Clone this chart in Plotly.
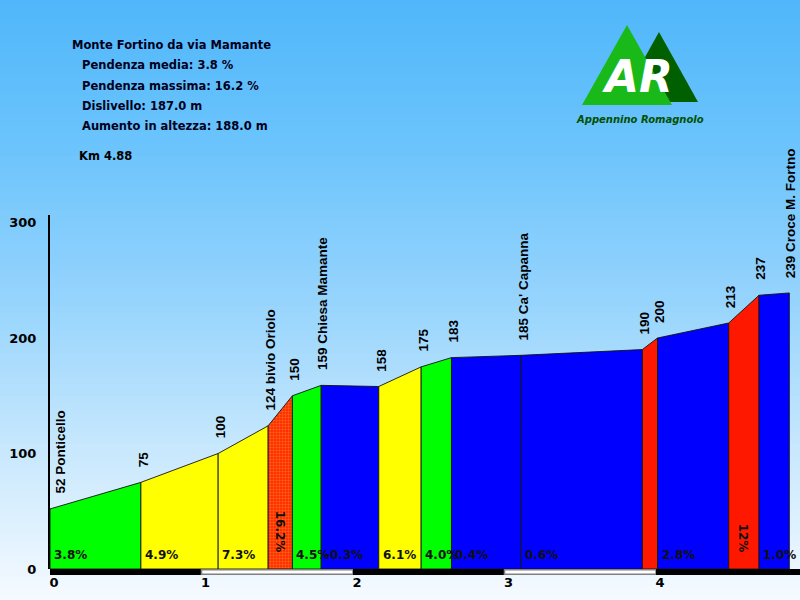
import plotly.graph_objects as go

# ---------------- data ----------------
km = [0, 0.60, 1.11, 1.44, 1.60, 1.79, 2.17, 2.45, 2.65, 3.11, 3.91, 4.01, 4.48, 4.68, 4.88]
alt = [52, 75, 100, 124, 150, 159, 158, 175, 183, 185, 190, 200, 213, 237, 239]
places = ["Ponticello", "", "", "bivio Oriolo", "", "Chiesa Mamante", "", "", "",
          "Ca' Capanna", "", "", "", "", "Croce M. Fortno"]
grades = [3.8, 4.9, 7.3, 16.2, 4.5, -0.3, 6.1, 4.0, 0.4, 0.6, 10.0, 2.8, 12.0, 1.0]
grade_labels = ["3.8%", "4.9%", "7.3%", "16.2%", "4.5%", "-0.3%", "6.1%", "4.0%",
                "0.4%", "0.6%", "", "2.8%", "12%", "1.0%"]
km_ticks = [0, 1, 2, 3, 4]
alt_ticks = [0, 100, 200, 300]
title_lines = ["Monte Fortino da via Mamante", "Pendenza media: 3.8 %",
               "Pendenza massima: 16.2 %", "Dislivello: 187.0 m",
               "Aumento in altezza: 188.0 m"]
length_label = "Km 4.88"

# ---------------- layout geometry ----------------
W, H = 800, 600
ML, MR, MT, MB = 50, 0, 215, 31
PX_PER_KM = 151.5
PX_PER_M = 1.155
XMAX = (W - ML - MR) / PX_PER_KM
YMAX = (H - MB - MT) / PX_PER_M


def X(px):
    return (px - ML) / (W - ML - MR)


def Y(py):
    return (H - MB - py) / (H - MT - MB)


def seg_color(g):
    if g < 3:
        return "#0000ff"
    if g < 4.7:
        return "#00ff00"
    if g < 9:
        return "#ffff00"
    if g < 15:
        return "#ff1800"
    return "hatch"


fig = go.Figure()

# profile segments
for i in range(len(grades)):
    x0, x1 = km[i], km[i + 1]
    h0, h1 = alt[i], alt[i + 1]
    c = seg_color(grades[i])
    kw = {}
    if c == "hatch":
        kw["fillcolor"] = "#ff3000"
        kw["fillpattern"] = dict(shape=".", bgcolor="#ff2000", fgcolor="#ffa020",
                                 size=3, solidity=0.5)
    else:
        kw["fillcolor"] = c
    fig.add_trace(go.Scatter(
        x=[x0, x0, x1, x1, x0], y=[0, h0, h1, 0, 0],
        mode="lines", fill="toself",
        line=dict(color="rgba(20,20,20,0.9)", width=1),
        hoverinfo="skip", showlegend=False, **kw))

# elevation / place labels (rotated)
for i, (k, a, p) in enumerate(zip(km, alt, places)):
    txt = f"{a} {p}" if p else f"{a}"
    fig.add_annotation(x=k, y=a, text=txt, textangle=-90, showarrow=False,
                       xanchor="center", yanchor="bottom",
                       xshift=10 if i == 0 else 2, yshift=13,
                       font=dict(family="Liberation Sans", size=13.5, color="#000000",
                                 weight="bold"))

# gradient labels
for i, lab in enumerate(grade_labels):
    if not lab:
        continue
    x0, x1 = km[i], km[i + 1]
    if grades[i] >= 12:
        fig.add_annotation(x=(x0 + x1) / 2, y=0, text=lab, textangle=90, showarrow=False,
                           xanchor="center", yanchor="bottom", yshift=14,
                           font=dict(family="DejaVu Sans", size=12, color="#101010",
                                     weight="bold"))
    else:
        fig.add_annotation(x=x0, y=0, text=lab, showarrow=False,
                           xanchor="left", yanchor="bottom", xshift=2, yshift=5,
                           font=dict(family="DejaVu Sans", size=12, color="#101010",
                                     weight="bold"))

shapes = []
# sky gradient background
stops = [(0, (80, 183, 250)), (150, (108, 196, 252)), (300, (150, 212, 253)),
         (450, (200, 232, 253)), (570, (236, 246, 255)), (600, (246, 250, 255))]


def col_at(py):
    for (a, ca), (b, cb) in zip(stops[:-1], stops[1:]):
        if a <= py <= b:
            t = (py - a) / (b - a)
            return tuple(int(round(ca[j] + t * (cb[j] - ca[j]))) for j in range(3))
    return stops[-1][1]


step = 6
for py in range(0, H, step):
    c = col_at(py + step / 2)
    shapes.append(dict(type="rect", xref="paper", yref="paper", layer="below",
                       x0=X(0), x1=X(W), y0=Y(py + step), y1=Y(py),
                       fillcolor=f"rgb{c}", line=dict(width=0)))

# km bar along x axis (alternating black / white km bands)
BAR_TOP, BAR_BOT = 569, 575
for k in range(len(km_ticks)):
    a = km_ticks[k] / XMAX
    b = (km_ticks[k + 1] / XMAX) if k + 1 < len(km_ticks) else 1.0
    if k % 2 == 0:
        shapes.append(dict(type="rect", xref="paper", yref="paper", layer="above",
                           x0=a, x1=b, y0=Y(BAR_BOT), y1=Y(BAR_TOP), fillcolor="#000000",
                           line=dict(width=0)))
    else:
        shapes.append(dict(type="rect", xref="paper", yref="paper", layer="above",
                           x0=a, x1=b, y0=Y(BAR_BOT - 0.7), y1=Y(BAR_TOP + 0.7),
                           fillcolor="#ffffff", line=dict(color="#808080", width=1.5)))

# logo
def path(pts):
    return "M " + " L ".join(f"{X(px)},{Y(py)}" for px, py in pts) + " Z"


shapes.append(dict(type="path", xref="paper", yref="paper", layer="below",
                   path=path([(659, 32), (698, 102), (620, 102)]),
                   fillcolor="#006000", line=dict(width=0)))
shapes.append(dict(type="path", xref="paper", yref="paper", layer="below",
                   path=path([(627, 25), (672, 105), (582, 105)]),
                   fillcolor="#19b919", line=dict(width=0)))

fig.add_annotation(xref="paper", yref="paper", x=X(637), y=Y(76), text="<i>AR</i>",
                   showarrow=False, xanchor="center", yanchor="middle",
                   font=dict(family="DejaVu Sans", size=44, color="#ffffff", weight="bold"))
fig.add_annotation(xref="paper", yref="paper", x=X(640), y=Y(119),
                   text="<i>Appennino Romagnolo</i>",
                   showarrow=False, xanchor="center", yanchor="middle",
                   font=dict(family="DejaVu Sans", size=10, color="#005000", weight="bold"))

# title block
ys = [45, 65, 86, 106, 126]
for i, (t, py) in enumerate(zip(title_lines, ys)):
    fig.add_annotation(xref="paper", yref="paper", x=X(70 if i == 0 else 80), y=Y(py),
                       text=t, showarrow=False, xanchor="left", yanchor="middle",
                       font=dict(family="DejaVu Sans", size=11.5, color="#000020",
                                 weight="bold"))
fig.add_annotation(xref="paper", yref="paper", x=X(77), y=Y(156), text=length_label,
                   showarrow=False, xanchor="left", yanchor="middle",
                   font=dict(family="DejaVu Sans", size=11.5, color="#000000", weight="bold"))

fig.update_layout(
    width=W, height=H,
    margin=dict(l=ML, r=MR, t=MT, b=MB, pad=0),
    paper_bgcolor="#f5faff", plot_bgcolor="rgba(0,0,0,0)",
    shapes=shapes, showlegend=False,
    xaxis=dict(range=[0, XMAX], tickvals=km_ticks, ticktext=[str(v) for v in km_ticks],
               showgrid=False, zeroline=False, showline=False,
               ticks="outside", ticklen=1, tickcolor="rgba(0,0,0,0)",
               ticklabelshift=4,
               tickfont=dict(family="DejaVu Sans", size=13, color="#000000", weight="bold"),
               fixedrange=True),
    yaxis=dict(range=[0, YMAX], tickvals=alt_ticks, ticktext=[str(v) for v in alt_ticks],
               showgrid=False, zeroline=False, showline=True, linecolor="#000000",
               linewidth=2, ticks="outside", ticklen=9, tickcolor="rgba(0,0,0,0)",
               tickfont=dict(family="DejaVu Sans", size=13, color="#000000", weight="bold"),
               fixedrange=True),
)

fig.write_html("out.html", config={"displayModeBar": False},
               post_script="document.body.style.margin='0';"
                           "document.documentElement.style.overflow='hidden';")
